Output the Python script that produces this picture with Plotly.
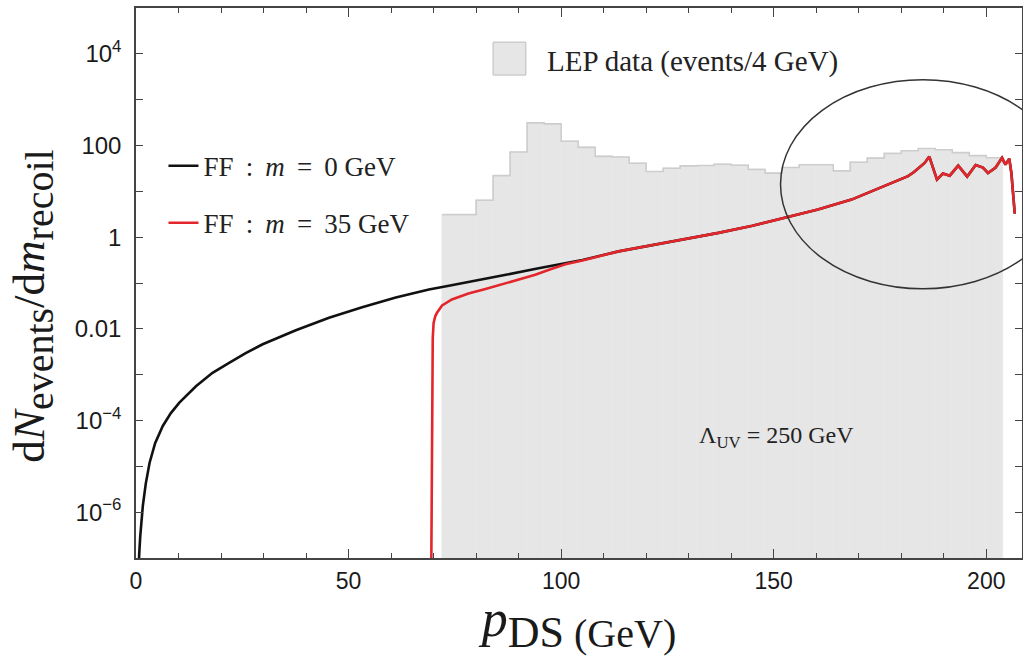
import plotly.graph_objects as go

# ---------------- data ----------------
# LEP data histogram (events / 4 GeV), bins 72..204 GeV
bin_centers = [74, 78, 82, 86, 90, 94, 98, 102, 106, 110, 114, 118, 122, 126, 130, 134,
               138, 142, 146, 150, 154, 158, 162, 166, 170, 174, 178, 182, 186, 190, 194, 198, 202]
bin_edges = [72, 76, 80, 84, 88, 92, 96, 100, 104, 108, 112, 116, 120, 124, 128, 132, 136,
             140, 144, 148, 152, 156, 160, 164, 168, 172, 176, 180, 184, 188, 192, 196, 200, 204]
lep_counts = [3.1, 3.1, 6.4, 22, 72, 311, 296, 124, 91, 58, 56, 41, 27, 32, 36, 36.5,
              39, 37, 30, 25, 33, 38, 38, 28, 43, 53, 67, 77, 86, 81, 70, 60, 54]

# FF : m = 0 GeV
p_m0 = [0.25, 0.5, 0.75, 1.0, 1.6, 2.3, 3.2, 4.5, 6.3, 8.2, 10.2, 14.1, 18.0, 21.9, 25.8, 29.8,
        37.6, 45.4, 53.2, 61.1, 68.9, 73.6, 80, 87, 94.7, 105, 113.5, 122.9, 137.0, 145, 152.6,
        160.4, 168.3, 176.1, 179.1, 181.6, 183.0, 184.5, 185.5, 186.6, 188.4, 189.8, 191.4,
        193.4, 195.5, 197.5, 199.2, 200.4, 202.2, 203.7, 204.5, 205.4, 205.9, 206.7]
dn_m0 = [3.5e-9, 3.2e-8, 1.2e-7, 3.0e-7, 1.35e-6, 4.2e-6, 1.2e-5, 3.2e-5, 7.6e-5, 1.45e-4, 2.45e-4,
         5.6e-4, 1.1e-3, 1.8e-3, 2.95e-3, 4.6e-3, 9.3e-3, 0.0174, 0.0295, 0.048, 0.072, 0.087,
         0.112, 0.151, 0.209, 0.316, 0.49, 0.71, 1.24, 1.78, 2.64, 4.0, 6.6, 12.9, 16.6, 21.4,
         26.3, 33.9, 41.7, 57.3, 18.0, 24.4, 22.0, 36.5, 21.0, 37.4, 33.0, 25.2, 33.0, 53.7,
         38.3, 51.8, 25.2, 3.27]

# FF : m = 35 GeV
p_m35 = [69.4, 69.6, 69.8, 70.0, 70.4, 70.8, 72.0, 74.3, 78.2, 82.2, 86.1, 90.0, 93.9, 97.5,
         101, 105, 113.5, 122.9, 137.0, 145, 152.6, 160.4, 168.3, 176.1, 179.1, 181.6, 183.0,
         184.5, 185.5, 186.6, 188.4, 189.8, 191.4, 193.4, 195.5, 197.5, 199.2, 200.4, 202.2,
         203.7, 204.5, 205.4, 205.9, 206.7]
dn_m35 = [1e-8, 3e-5, 6.3e-3, 0.0135, 0.019, 0.0224, 0.0324, 0.0437, 0.0589, 0.0741, 0.0933,
          0.1175, 0.151, 0.2, 0.257, 0.31, 0.49, 0.71, 1.24, 1.78, 2.64, 4.0, 6.6, 12.9, 16.6,
          21.4, 26.3, 33.9, 41.7, 57.3, 18.0, 24.4, 22.0, 36.5, 21.0, 37.4, 33.0, 25.2, 33.0,
          53.7, 38.3, 51.8, 25.2, 3.27]

x_ticks = [0, 50, 100, 150, 200]
y_ticks = [1e-6, 1e-4, 1e-2, 1, 100, 1e4]
y_ticktext = ["10<sup>\u22126</sup>", "10<sup>\u22124</sup>", "0.01", "1", "100", "10<sup>4</sup>"]
y_minor = [1e-7, 1e-5, 1e-3, 0.1, 10, 1e3, 1e5]

SERIF = "Liberation Serif"
SANS = "Liberation Sans"
AX = "#444444"

fig = go.Figure()
fig.add_trace(go.Bar(x=bin_centers, y=lep_counts, width=4,
                     marker=dict(color="#e6e6e6", line=dict(color="#e6e6e6", width=0.5)),
                     showlegend=False, hoverinfo="skip"))
fig.add_trace(go.Scatter(x=bin_edges, y=lep_counts + [lep_counts[-1]], mode="lines",
                         line=dict(color="#cdcdcd", width=1.6, shape="hv"),
                         showlegend=False, hoverinfo="skip"))
fig.add_trace(go.Scatter(x=p_m0, y=dn_m0, mode="lines",
                         name="FF\u2009 : \u2009<i>m</i>\u2009 = \u20090 GeV",
                         legendgroup="a", line=dict(color="#111111", width=2.6)))
fig.add_trace(go.Scatter(x=p_m35, y=dn_m35, mode="lines",
                         name="FF\u2009 : \u2009<i>m</i>\u2009 = \u200935 GeV",
                         legendgroup="b", line=dict(color="#e3262b", width=2.6)))

ytitle = ("d<i>N</i><sub><span style=\"font-size:40px\">events</span></sub>/"
          "d<i>m</i><sub><span style=\"font-size:40px\">recoil</span></sub>"
          "<span style=\"font-size:46px\">\u2003</span>")
xtitle = ("\u2003<i>p</i><sub><span style=\"font-size:44px\">DS</span>"
          "<span style=\"font-size:40px\"> (GeV)</span></sub>")

fig.update_layout(
    width=1023, height=657,
    margin=dict(l=136, r=1, t=8, b=99),
    plot_bgcolor="white", paper_bgcolor="white",
    bargap=0, barmode="overlay",
    showlegend=True,
    legend=dict(x=0.031, y=0.757, xanchor="left", yanchor="top",
                font=dict(family=SERIF, size=27, color="#222"),
                bgcolor="rgba(0,0,0,0)", tracegroupgap=19, itemwidth=30),
    xaxis=dict(range=[0, 208.4], tickvals=x_ticks, ticks="inside", ticklen=9, tickwidth=1.2,
               tickcolor=AX, showline=True, linecolor=AX, linewidth=1.5, mirror="ticks",
               showgrid=False, zeroline=False, ticklabelstandoff=2, automargin=False,
               minor=dict(dtick=10, ticks="inside", ticklen=5, tickwidth=1, tickcolor=AX),
               tickfont=dict(family=SANS, size=23, color="#1a1a1a"),
               title=dict(text=xtitle, font=dict(family=SERIF, size=52, color="#1a1a1a"),
                          standoff=0)),
    yaxis=dict(type="log", range=[-7, 5], tickvals=y_ticks, ticktext=y_ticktext,
               ticks="inside", ticklen=7, tickwidth=1.2, tickcolor=AX, showline=True,
               linecolor=AX, linewidth=1.5, mirror="ticks", showgrid=False, zeroline=False,
               ticklabelstandoff=8, automargin=False,
               minor=dict(tickvals=y_minor, ticks="inside", ticklen=7, tickwidth=1, tickcolor=AX),
               tickfont=dict(family=SANS, size=24, color="#1a1a1a"),
               title=dict(text=ytitle, font=dict(family=SERIF, size=45, color="#1a1a1a"),
                          standoff=16)),
)

# circled region (shape y in data units on the log axis)
fig.add_shape(type="circle", xref="x", yref="y", x0=151.6, x1=218.5, y0=0.0745, y1=2735,
              line=dict(color="#333333", width=1.5))

# LEP data legend swatch + label
fig.add_shape(type="rect", xref="paper", yref="paper", x0=0.403, x1=0.440, y0=0.878, y1=0.938,
              fillcolor="#e6e6e6", line=dict(color="#bdbdbd", width=1))
fig.add_annotation(xref="paper", yref="paper", x=0.4616, y=0.902, xanchor="left", yanchor="middle",
                   text="LEP data (events/4 GeV)", showarrow=False,
                   font=dict(family=SERIF, size=29, color="#222"))

# cutoff annotation
fig.add_annotation(xref="x", yref="y", x=150.7, y=-4.35, text="\u039b<sub>UV</sub> = 250 GeV",
                   showarrow=False, font=dict(family=SERIF, size=24, color="#222"))

# remove the default 8px page margin so the figure sits at the window's top-left corner
fig.write_html("out.html", config={"displayModeBar": False},
               post_script="document.body.style.margin='0';")
